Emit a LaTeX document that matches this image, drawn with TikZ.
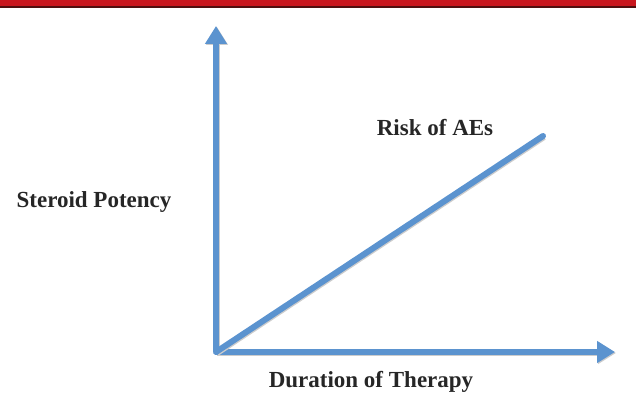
\documentclass[tikz,border=0pt]{standalone}
\usepackage{fontspec}
\setmainfont{Liberation Serif}
\usetikzlibrary{arrows.meta,positioning}
\definecolor{axisblue}{RGB}{91,147,207}
\definecolor{barred}{RGB}{200,22,30}
\definecolor{bardark}{RGB}{80,15,15}
\tikzset{
  axis/.style={draw=axisblue, line width=6pt,
    preaction={draw=black!20, line width=6pt, transform canvas={xshift=1pt,yshift=-1pt}}},
  axisarrow/.style={axis, -{Triangle[length=18pt,width=21pt]}},
  lbl/.style={font=\fontsize{23}{26}\selectfont\bfseries, text=black!85, inner sep=0pt}
}
\begin{document}
\begin{tikzpicture}[x=1pt,y=-1pt]
  \useasboundingbox (0,0) rectangle (636,395);
  % top bar
  \fill[barred] (0,0) rectangle (636,6);
  \fill[bardark] (0,6) rectangle (636,8);

  \coordinate (origin) at (216,352);
  \coordinate (ytip) at (216,26);
  \coordinate (xtip) at (615,352);
  \coordinate (riskend) at (543,136);

  \draw[axisarrow] (origin) -- (ytip);
  \draw[axisarrow] (origin) -- (xtip);
  \draw[axis, line cap=round] (origin) -- (riskend);

  \node[lbl] (risk) at (435,128) {Risk of AEs};
  \node[lbl] (potency) at (94,202) {Steroid Potency};
  \node[lbl] (duration) at (371,382) {Duration of Therapy};
\end{tikzpicture}
\end{document}
